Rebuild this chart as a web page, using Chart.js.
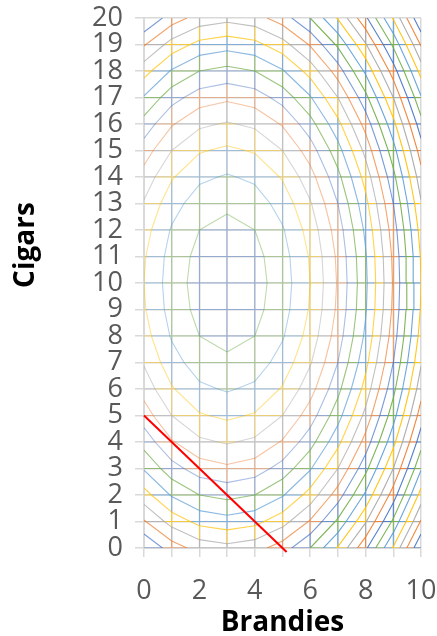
<!DOCTYPE html>
<html>
<head>
<meta charset="utf-8">
<script src="https://cdn.jsdelivr.net/npm/chart.js@4.4.1/dist/chart.umd.min.js"></script>
<style>
html,body{margin:0;padding:0;background:#fff;}
#wrap{width:437px;height:636px;}
</style>
</head>
<body>
<div id="wrap"><canvas id="chart" width="437" height="636"></canvas></div>
<script>
// grid of the surface: brandies across, cigars up
const brandies = [0,1,2,3,4,5,6,7,8,9,10];
const cigars = [0,1,2,3,4,5,6,7,8,9,10,11,12,13,14,15,16,17,18,19,20];

// utility at each grid point, one row per cigars value (row 0 = 0 cigars)
const u0  = [120,135,144,147,144,135,120, 99, 72, 39,  0];
const u1  = [139,154,163,166,163,154,139,118, 91, 58, 19];
const u2  = [156,171,180,183,180,171,156,135,108, 75, 36];
const u3  = [171,186,195,198,195,186,171,150,123, 90, 51];
const u4  = [184,199,208,211,208,199,184,163,136,103, 64];
const u5  = [195,210,219,222,219,210,195,174,147,114, 75];
const u6  = [204,219,228,231,228,219,204,183,156,123, 84];
const u7  = [211,226,235,238,235,226,211,190,163,130, 91];
const u8  = [216,231,240,243,240,231,216,195,168,135, 96];
const u9  = [219,234,243,246,243,234,219,198,171,138, 99];
const u10 = [220,235,244,247,244,235,220,199,172,139,100];
const u11 = [219,234,243,246,243,234,219,198,171,138, 99];
const u12 = [216,231,240,243,240,231,216,195,168,135, 96];
const u13 = [211,226,235,238,235,226,211,190,163,130, 91];
const u14 = [204,219,228,231,228,219,204,183,156,123, 84];
const u15 = [195,210,219,222,219,210,195,174,147,114, 75];
const u16 = [184,199,208,211,208,199,184,163,136,103, 64];
const u17 = [171,186,195,198,195,186,171,150,123, 90, 51];
const u18 = [156,171,180,183,180,171,156,135,108, 75, 36];
const u19 = [139,154,163,166,163,154,139,118, 91, 58, 19];
const u20 = [120,135,144,147,144,135,120, 99, 72, 39,  0];
const utility = [u0,u1,u2,u3,u4,u5,u6,u7,u8,u9,u10,u11,u12,u13,u14,u15,u16,u17,u18,u19,u20];

// contour levels (band boundaries)
const levels = [10,20,30,40,50,60,70,80,90,100,110,120,130,140,150,160,170,180,190,200,210,220,230,240];

// budget line
const budgetX = [0, 5.15];
const budgetY = [5, -0.15];

const xTickLabels = ['0','','2','','4','','6','','8','','10'];
const yTickLabels = ['0','1','2','3','4','5','6','7','8','9','10','11','12','13','14','15','16','17','18','19','20'];

const palette = ['#4472C4','#ED7D31','#A5A5A5','#FFC000','#5B9BD5','#70AD47'];

function withAlpha(hex, a){
    let r = parseInt(hex.substr(1,2),16), g = parseInt(hex.substr(3,2),16), b = parseInt(hex.substr(5,2),16);
    return 'rgba('+r+','+g+','+b+','+a+')';
}
function bandColor(k){
    let a = k <= 12 ? 0.9 : (k <= 18 ? 0.7 : 0.45);
    return withAlpha(palette[(k-1)%6], a);
}

// contour segments per level (marching squares, linear interpolation)
function contourPoints(L){
    let pts = [];
    for(let j=0;j<cigars.length-1;j++){
        for(let i=0;i<brandies.length-1;i++){
            let c = [
                [brandies[i],cigars[j],utility[j][i]],
                [brandies[i+1],cigars[j],utility[j][i+1]],
                [brandies[i+1],cigars[j+1],utility[j+1][i+1]],
                [brandies[i],cigars[j+1],utility[j+1][i]]
            ];
            let cross = [];
            for(let e=0;e<4;e++){
                let a = c[e], b = c[(e+1)%4];
                if((a[2]>=L) !== (b[2]>=L)){
                    let t = (L-a[2])/(b[2]-a[2]);
                    cross.push({x:a[0]+(b[0]-a[0])*t, y:a[1]+(b[1]-a[1])*t});
                }
            }
            for(let k=0;k+1<cross.length;k+=2){
                pts.push(cross[k], cross[k+1], {x:cross[k+1].x, y:null});
            }
        }
    }
    return pts;
}

// mesh edges split at the contours, each piece coloured by its band
let meshByBand = {};
function addEdge(xa,ya,va,xb,yb,vb){
    let ts = [0];
    levels.forEach(L => {
        if((va>=L) !== (vb>=L)) ts.push((L-va)/(vb-va));
    });
    ts.push(1);
    ts.sort((p,q)=>p-q);
    for(let k=0;k<ts.length-1;k++){
        let t0 = ts[k], t1 = ts[k+1];
        if(t1-t0 < 1e-9) continue;
        let vm = va+(vb-va)*(t0+t1)/2;
        let band = Math.floor(vm/10)+1;
        if(!meshByBand[band]) meshByBand[band] = [];
        meshByBand[band].push(
            {x:xa+(xb-xa)*t0, y:ya+(yb-ya)*t0},
            {x:xa+(xb-xa)*t1, y:ya+(yb-ya)*t1},
            {x:0, y:null});
    }
}
for(let j=0;j<cigars.length-1;j++){
    for(let i=0;i<brandies.length-1;i++){
        addEdge(brandies[i],cigars[j],utility[j][i],brandies[i+1],cigars[j],utility[j][i+1]);
    }
}
for(let i=1;i<brandies.length-1;i++){
    for(let j=0;j<cigars.length-1;j++){
        addEdge(brandies[i],cigars[j],utility[j][i],brandies[i],cigars[j+1],utility[j+1][i]);
    }
}

let datasets = [];
Object.keys(meshByBand).forEach(k => {
    datasets.push({
        data: meshByBand[k],
        showLine:true, borderColor: bandColor(+k), borderWidth:1.1,
        pointRadius:0, spanGaps:false, order:3
    });
});
levels.forEach(L => {
    datasets.push({
        data: contourPoints(L),
        showLine:true, borderColor: bandColor(L/10), borderWidth:1.1,
        pointRadius:0, spanGaps:false, order:2
    });
});
datasets.push({
    data: budgetX.map((x,i)=>({x:x, y:budgetY[i]})),
    showLine:true, borderColor:'#FF0000', borderWidth:2,
    pointRadius:0, clip:false, order:0
});

const axisTitles = {
    id:'axisTitles',
    afterDraw(chart){
        let c = chart.ctx;
        c.save();
        c.fillStyle = '#000000';
        c.font = 'bold 28px "Open Sans"';
        c.textAlign = 'center';
        c.textBaseline = 'alphabetic';
        c.fillText('Brandies', (chart.chartArea.left+chart.chartArea.right)/2, 631);
        c.translate(34, 245);
        c.rotate(-Math.PI/2);
        c.fillText('Cigars', 0, 0);
        c.restore();
    }
};

function draw(){
    new Chart(document.getElementById('chart'), {
        type:'scatter',
        data:{datasets:datasets},
        options:{
            responsive:false,
            animation:false,
            devicePixelRatio:1,
            layout:{padding:{top:18,right:16,left:0,bottom:0}},
            plugins:{legend:{display:false}, tooltip:{enabled:false}},
            scales:{
                x:{
                    type:'linear', min:0, max:10,
                    ticks:{stepSize:1, autoSkip:false, maxRotation:0, padding:18,
                        color:'#595959', font:{family:'Open Sans', size:27},
                        callback:(v)=>xTickLabels[v]},
                    grid:{color:'#D9D9D9', lineWidth:1.5, tickLength:9, tickColor:'#D9D9D9'},
                    border:{color:'#D9D9D9', width:2},
                    afterFit(s){ s.height = 88; s.paddingLeft = 0; s.paddingRight = 0; }
                },
                y:{
                    type:'linear', min:0, max:20,
                    ticks:{stepSize:1, autoSkip:false, padding:12,
                        color:'#595959', font:{family:'Open Sans', size:27},
                        callback:(v)=>yTickLabels[v]},
                    grid:{color:'#D9D9D9', lineWidth:1.5, tickLength:9, tickColor:'#D9D9D9'},
                    border:{color:'#D9D9D9', width:2},
                    afterFit(s){ s.width = 144; s.paddingTop = 0; s.paddingBottom = 0; }
                }
            }
        },
        plugins:[axisTitles]
    });
}
Promise.all([
    document.fonts.load('27px "Open Sans"'),
    document.fonts.load('bold 28px "Open Sans"')
]).then(draw, draw);
</script>
</body>
</html>
